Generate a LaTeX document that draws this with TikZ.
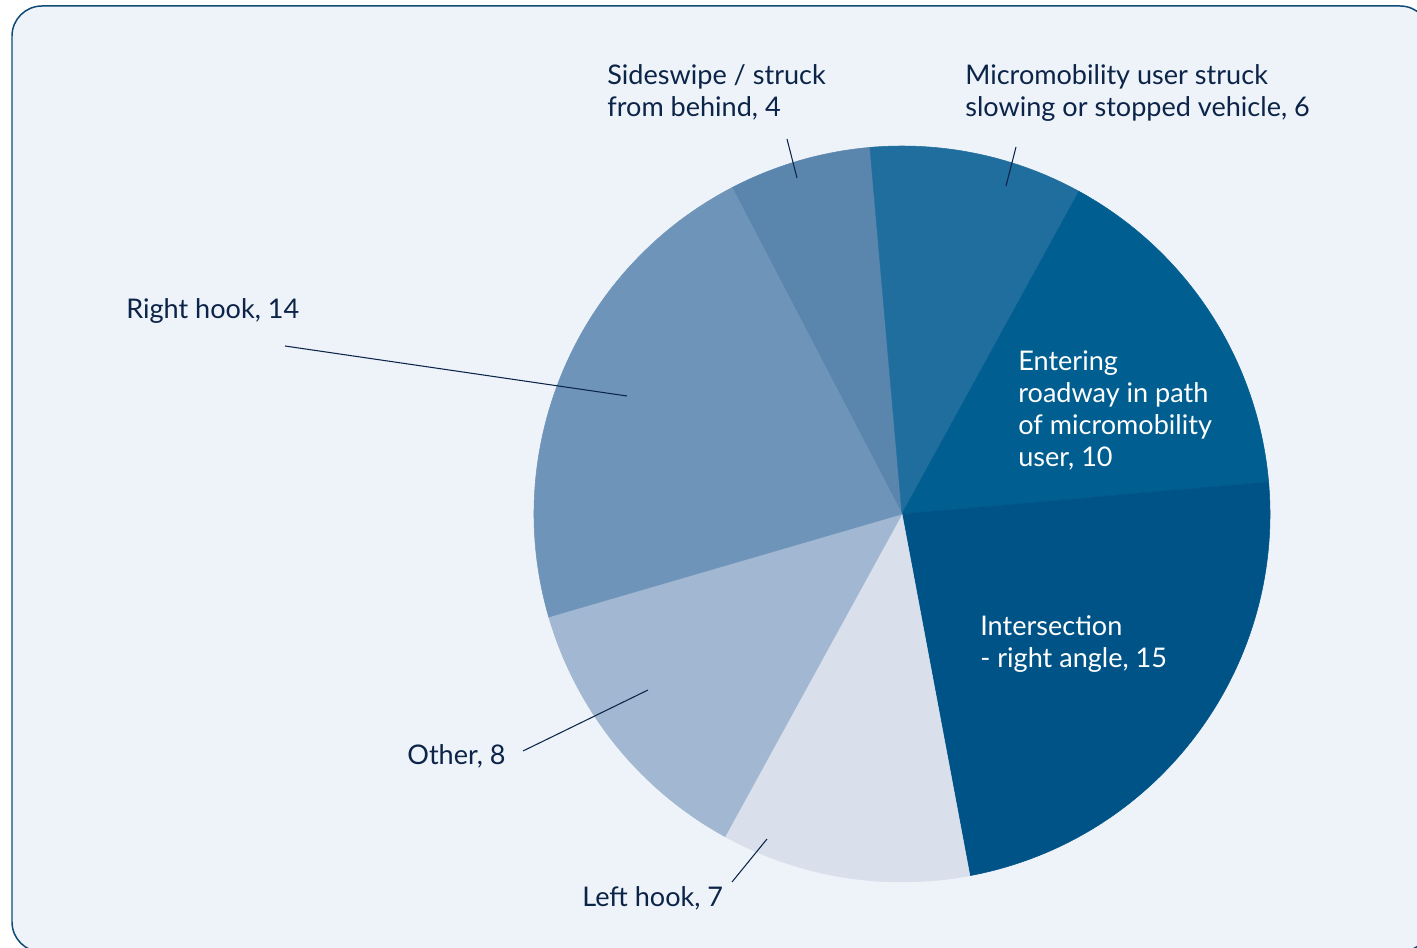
\documentclass[tikz,border=0pt]{standalone}
\usepackage{fontspec}
\setmainfont{Lato}
\definecolor{bgpanel}{HTML}{EEF3FA}
\definecolor{frame}{HTML}{0E4A76}
\definecolor{ink}{HTML}{0B2447}
\definecolor{sideswipe}{HTML}{5A86AE}
\definecolor{micro}{HTML}{206E9E}
\definecolor{entering}{HTML}{005E90}
\definecolor{crossing}{HTML}{005387}
\definecolor{lefthook}{HTML}{D9E0EC}
\definecolor{other}{HTML}{A2B7D1}
\definecolor{righthook}{HTML}{6F94B9}
\tikzset{
  lbl/.style={anchor=north west, inner sep=0pt, align=left, text=ink,
    font=\fontsize{15.4}{18.2}\selectfont},
  inlbl/.style={lbl, text=white},
  leader/.style={draw=ink, line width=0.6pt}
}
\begin{document}
\begin{tikzpicture}[x=0.02cm,y=0.02cm]
\useasboundingbox (0,0) rectangle (1417,947);
\clip (0,0) rectangle (1417,947);
\draw[fill=bgpanel, draw=frame, line width=0.85pt, rounded corners=0.6cm] (12,-5) rectangle (1430,941);

\coordinate (c) at (902,433);
\foreach \a/\b/\col in {117.5/95/sideswipe, 95/61.25/micro, 61.25/5/entering,
  5/-79.375/crossing, -79.375/-118.75/lefthook, -118.75/-163.75/other,
  -163.75/-242.5/righthook}
  \filldraw[\col, line width=0.3pt, line join=round] (c) -- ++(\a:368) arc (\a:\b:368) -- cycle;

\node[lbl] (ss) at (607,883) {Sideswipe / struck\\from behind, 4};
\node[lbl] (mm) at (965,883) {Micromobility user struck\\slowing or stopped vehicle, 6};
\node[lbl] (rh) at (126,649) {Right hook, 14};
\node[inlbl] (en) at (1018,597) {Entering\\roadway in path\\of micromobility\\user, 10};
\node[inlbl] (ix) at (980,332) {Intersection\\- right angle, 15};
\node[lbl] (ot) at (407,203) {Other, 8};
\node[lbl] (lh) at (582,61) {Left hook, 7};

\coordinate (ss-a) at (787,808); \coordinate (ss-b) at (797,769);
\coordinate (mm-a) at (1016,800); \coordinate (mm-b) at (1006,761);
\coordinate (rh-a) at (285,601); \coordinate (rh-b) at (627,551);
\coordinate (ot-a) at (523,196); \coordinate (ot-b) at (648,257);
\coordinate (lh-a) at (732,65); \coordinate (lh-b) at (767,108);
\foreach \p in {ss,mm,rh,ot,lh}
  \path[leader] (\p-a) -- (\p-b);
\end{tikzpicture}
\end{document}
